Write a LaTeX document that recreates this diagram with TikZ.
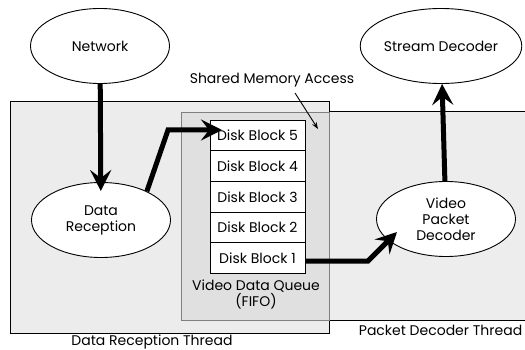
\documentclass[tikz,border=0pt]{standalone}
\usepackage{fontspec}
\setmainfont{Poppins}
\usetikzlibrary{arrows.meta,positioning,shapes.geometric}

\begin{document}
\begin{tikzpicture}[x=1pt,y=-1pt,font=\fontsize{14}{16}\selectfont,line width=0.9pt]
\tikzset{proc/.style={draw,ellipse,fill=white,minimum width=139pt,minimum height=75pt,align=center,inner sep=0pt}}
\tikzset{blk/.style={draw,fill=white,minimum width=95pt,minimum height=30.6pt,inner sep=0pt}}
\tikzset{flow/.style={line width=5pt,-{Stealth[length=21pt,width=21pt,inset=8pt]}}}
\useasboundingbox (0,0) rectangle (525,350);
% the two thread areas and the shared queue
\draw[fill=gray!14] (181,111) rectangle (540,320);
\draw[fill=gray!15] (10,101) rectangle (329,333);
\draw[gray,fill=gray!24] (181,112) rectangle (329,320);
\node[anchor=base] (drlabel) at (152,345) {Data Reception Thread};
\node[anchor=base east] (pdlabel) at (526,335) {Packet Decoder Thread};
% processes
\node[proc] (network) at (100,46) {Network};
\node[proc] (streamdec) at (441,46) {Stream Decoder};
\node[proc] (datarecv) at (101,220) {Data\\Reception};
\node[proc] (vpdec) at (446,219) {Video\\Packet\\Decoder};
% queue
\foreach \i in {1,...,5}
  \node[blk] (blk\i) at ({257.5},{258-(\i-1)*30.6}) {Disk Block \i};
\node[align=center] (queue) at (256,294) {Video Data Queue\\(FIFO)};
\node (shmem) at (272,80) {Shared Memory Access};
\coordinate (shtip) at (318,129);
\coordinate (in5) at (222,130);
\coordinate (in1) at (397,232);
% data flow
\draw[flow,shorten >=-9pt] (network) -- (datarecv);
\draw[flow] (datarecv.32) -- (168,130) -- (in5);
\draw[flow] (blk1.east) ++(0,3) -- (368,261) -- (in1);
\draw[flow] (vpdec) -- (streamdec);
\draw[-{Stealth[length=7pt,width=5pt]}] (295,93) -- (shtip);
\end{tikzpicture}
\end{document}
